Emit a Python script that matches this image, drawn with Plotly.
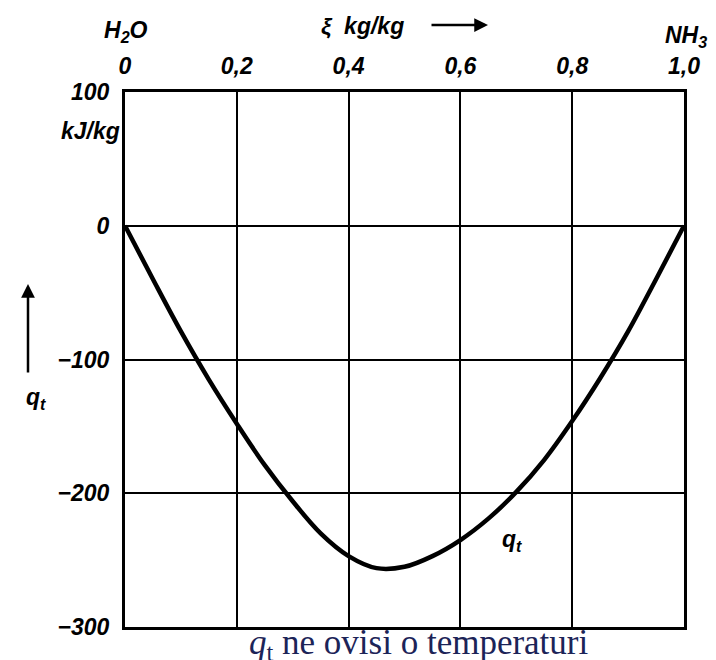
"""
q_t of the H2O / NH3 mixture over mass fraction xi.
"""

import plotly.graph_objects as go

# ── Data ──────────────────────────────────────────────────────────────────────
xi = [0.00, 0.05, 0.10, 0.15, 0.20, 0.25, 0.30, 0.35, 0.40, 0.45, 0.50,
      0.55, 0.60, 0.65, 0.70, 0.75, 0.80, 0.85, 0.90, 0.95, 1.00]
q_t = [0, -40, -79, -115, -148, -179, -206, -230, -247, -256, -255,
       -247, -235, -219, -199, -175, -146, -114, -79, -40, 0]

x_ticks = [0, 0.2, 0.4, 0.6, 0.8, 1.0]
x_tick_labels = ["0", "0,2", "0,4", "0,6", "0,8", "1,0"]
y_ticks = [100, 0, -100, -200, -300]
y_tick_labels = ["100", "0", "\u2212100", "\u2212200", "\u2212300"]

# ── Style ─────────────────────────────────────────────────────────────────────
_INK = "#000000"
_FONT = dict(family="Liberation Sans, Arial, sans-serif", size=23,
             color=_INK, style="italic", weight="bold")

# plot frame in window pixels (page body adds 8 px)
_L, _T, _W, _H = 125, 92, 559, 535


def _px(x, y):
    return (x - _L) / _W, 1 - (y - _T) / _H


fig = go.Figure()

fig.add_trace(go.Scatter(
    x=xi, y=q_t,
    mode="lines",
    line=dict(color=_INK, width=4.5, shape="spline", smoothing=1.0),
    hoverinfo="skip",
))

fig.update_layout(
    width=716, height=660,
    margin=dict(l=_L - 8, r=716 - _L - _W + 8, t=_T - 8, b=660 - _T - _H + 8),
    plot_bgcolor="white",
    paper_bgcolor="white",
    showlegend=False,
    font=_FONT,
)

fig.update_xaxes(
    range=[0, 1.0], side="top",
    tickvals=x_ticks, ticktext=x_tick_labels,
    showgrid=True, gridcolor=_INK, gridwidth=1.6,
    zeroline=False,
    showline=True, linecolor=_INK, linewidth=3, mirror=True,
    ticks="", ticklabelstandoff=6,
    tickfont=_FONT,
)
fig.update_yaxes(
    range=[-300, 100],
    tickvals=y_ticks, ticktext=y_tick_labels,
    showgrid=True, gridcolor=_INK, gridwidth=1.6,
    zeroline=False,
    showline=True, linecolor=_INK, linewidth=3, mirror=True,
    ticks="", ticklabelstandoff=8,
    tickfont=_FONT,
)

# ── Labels ────────────────────────────────────────────────────────────────────
notes = [
    ("H<sub>2</sub>O", 126, 32),
    ("\u03be  kg/kg", 362, 26),
    ("NH<sub>3</sub>", 686, 36),
    ("kJ/kg", 90, 131),
    ("q<sub>t</sub>", 36, 398),
    ("q<sub>t</sub>", 512, 540),
]
for text, px, py in notes:
    x, y = _px(px, py)
    fig.add_annotation(
        text=text, xref="paper", yref="paper", x=x, y=y,
        xanchor="center", yanchor="middle",
        showarrow=False, font=_FONT,
    )

# arrow next to the axis title on top
x, y = _px(488, 25)
fig.add_annotation(
    xref="paper", yref="paper", x=x, y=y,
    ax=-58, ay=0, text="", showarrow=True,
    arrowhead=2, arrowsize=1.1, arrowwidth=2.5, arrowcolor=_INK,
)
# upward arrow next to q_t
x, y = _px(28, 284)
fig.add_annotation(
    xref="paper", yref="paper", x=x, y=y,
    ax=0, ay=90, text="", showarrow=True,
    arrowhead=2, arrowsize=1.1, arrowwidth=2.5, arrowcolor=_INK,
)

# caption under the chart
x, y = _px(419, 644)
fig.add_annotation(
    text="<i>q</i><sub>t</sub> ne ovisi o temperaturi",
    xref="paper", yref="paper", x=x, y=y,
    xanchor="center", yanchor="middle",
    showarrow=False,
    font=dict(family="Liberation Serif, Times New Roman, serif",
              size=35, color="#1c2458", style="normal", weight="normal"),
)

fig.write_html("out.html")
